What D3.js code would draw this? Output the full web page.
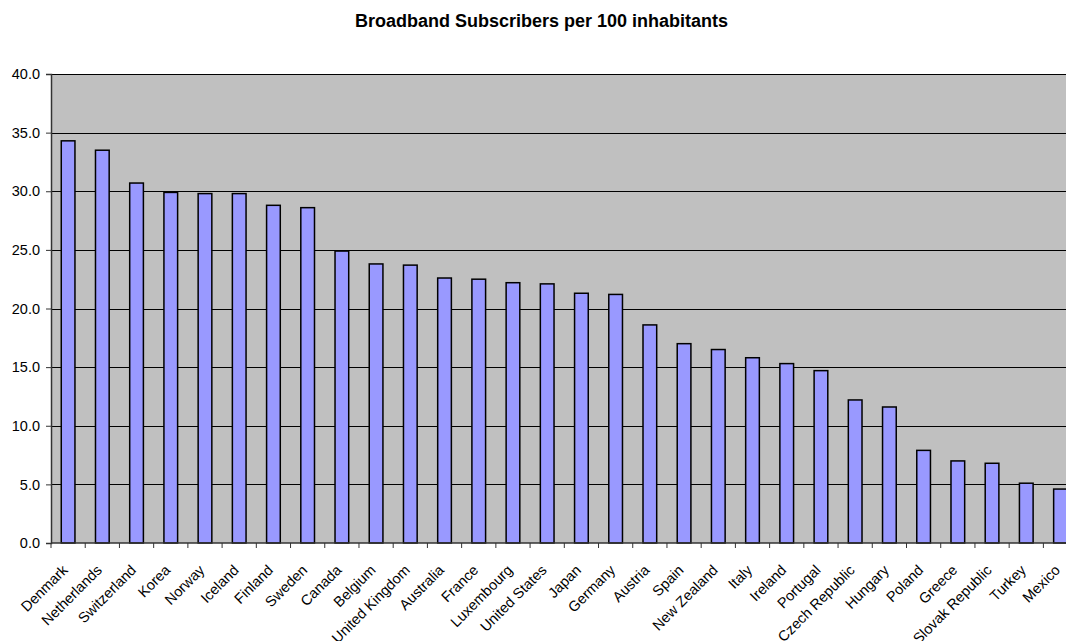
<!DOCTYPE html>
<html>
<head>
<meta charset="utf-8">
<script src="https://cdn.jsdelivr.net/npm/d3@7"></script>
<style>
  body { margin: 0; background: #fff; }
  svg { display: block; font-family: Arial, "Liberation Sans", sans-serif; }
</style>
</head>
<body>
<div id="chart"></div>
<script>
// data
const countries = ['Denmark', 'Netherlands', 'Switzerland', 'Korea', 'Norway', 'Iceland', 'Finland',
  'Sweden', 'Canada', 'Belgium', 'United Kingdom', 'Australia', 'France', 'Luxembourg',
  'United States', 'Japan', 'Germany', 'Austria', 'Spain', 'New Zealand', 'Italy', 'Ireland',
  'Portugal', 'Czech Republic', 'Hungary', 'Poland', 'Greece', 'Slovak Republic', 'Turkey', 'Mexico'];
const subscribers = [34.3, 33.5, 30.7, 29.9, 29.8, 29.8, 28.8, 28.6, 24.9, 23.8, 23.7, 22.6, 22.5, 22.2,
  22.1, 21.3, 21.2, 18.6, 17.0, 16.5, 15.8, 15.3, 14.7, 12.2, 11.6, 7.9, 7.0, 6.8, 5.1, 4.6];
const yTicks = [0, 5, 10, 15, 20, 25, 30, 35, 40];

const width = 1066, height = 641;
const plotLeft = 51, plotTop = 74, plotBottom = 543;
const plotRight = 1077.6; // plot area runs past the window edge

let svg = d3.select('#chart')
  .append('svg')
  .attr('width', width)
  .attr('height', height);

svg.append('text')
  .attr('x', 541.5)
  .attr('y', 27)
  .attr('text-anchor', 'middle')
  .attr('font-size', '18px')
  .attr('font-weight', 'bold')
  .text('Broadband Subscribers per 100 inhabitants');

let x = d3.scaleBand()
  .domain(countries)
  .range([plotLeft, plotRight])
  .paddingInner(0.6)
  .paddingOuter(0.3);

let y = d3.scaleLinear()
  .domain([0, 40])
  .range([plotBottom, plotTop]);

// plot background
svg.append('rect')
  .attr('x', plotLeft)
  .attr('y', plotTop)
  .attr('width', plotRight - plotLeft)
  .attr('height', plotBottom - plotTop)
  .attr('fill', '#c0c0c0');

// gridlines
svg.append('g')
  .selectAll('line')
  .data(yTicks.filter(d => d > 0))
  .join('line')
  .attr('x1', plotLeft)
  .attr('x2', plotRight)
  .attr('y1', d => Math.round(y(d)) + 0.5)
  .attr('y2', d => Math.round(y(d)) + 0.5)
  .attr('stroke', '#000')
  .attr('stroke-width', 1);

// bars
svg.append('g')
  .selectAll('rect')
  .data(subscribers)
  .join('rect')
  .attr('x', (d, i) => x(countries[i]))
  .attr('y', d => y(d))
  .attr('width', x.bandwidth())
  .attr('height', d => y(0) - y(d))
  .attr('fill', '#9999ff')
  .attr('stroke', '#000')
  .attr('stroke-width', 1.5);

// y axis
let yAxis = svg.append('g')
  .attr('transform', 'translate(' + plotLeft + ',0)')
  .call(d3.axisLeft(y).tickValues(yTicks).tickFormat(d3.format('.1f')).tickSize(5).tickPadding(6));
yAxis.select('.domain').attr('stroke', '#333').attr('stroke-width', 1.5);
yAxis.selectAll('.tick line').attr('stroke', '#333');
yAxis.selectAll('.tick text')
  .attr('font-size', '14.5px')
  .attr('font-family', 'Arial, "Liberation Sans", sans-serif')
  .attr('fill', '#000');

// x axis: ticks between categories, labels rotated
let step = x.step();
let tickPos = countries.map(c => x(c) - x.paddingOuter() * step);
tickPos.push(plotRight);
svg.append('line')
  .attr('x1', plotLeft)
  .attr('x2', plotRight)
  .attr('y1', plotBottom)
  .attr('y2', plotBottom)
  .attr('stroke', '#333')
  .attr('stroke-width', 1.5);
svg.append('g')
  .selectAll('line')
  .data(tickPos)
  .join('line')
  .attr('x1', d => d)
  .attr('x2', d => d)
  .attr('y1', plotBottom)
  .attr('y2', plotBottom + 5)
  .attr('stroke', '#333');

svg.append('g')
  .selectAll('text')
  .data(countries)
  .join('text')
  .attr('text-anchor', 'end')
  .attr('font-size', '14.5px')
  .attr('transform', d => 'translate(' + (x(d) + x.bandwidth() / 2 + 0.5) + ',' + (plotBottom + 28) + ') rotate(-45)')
  .text(d => d);
</script>
</body>
</html>
